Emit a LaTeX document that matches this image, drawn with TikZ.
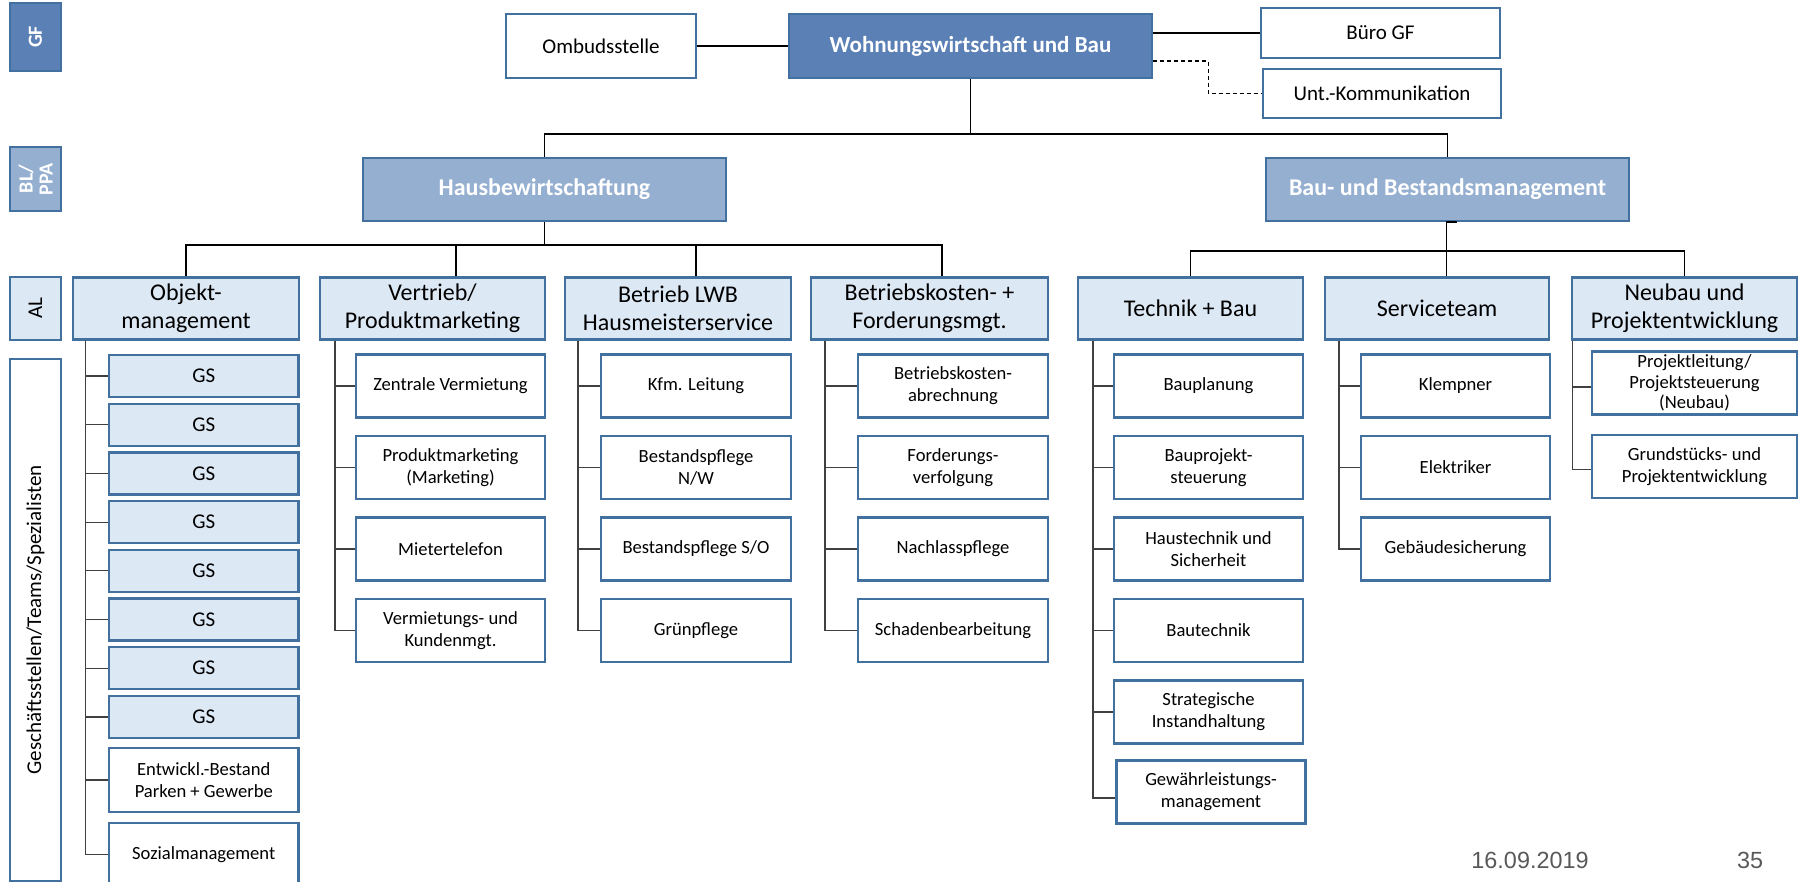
\documentclass[tikz,border=0pt]{standalone}
\usepackage{fontspec}
\setmainfont{Carlito}
\newfontfamily\footfont{Liberation Sans}
\usetikzlibrary{positioning,calc}

\definecolor{gfblue}{RGB}{91,128,181}
\definecolor{blblue}{RGB}{149,175,209}
\definecolor{alblue}{RGB}{221,232,245}
\definecolor{rimblue}{RGB}{66,113,160}
\definecolor{footgray}{RGB}{89,89,89}

\begin{document}
\begin{tikzpicture}[x=0.5pt, y=-0.5pt,
    box/.style={draw=rimblue, line width=1.1pt, align=center, inner sep=1pt, fill=white,
                font=\fontsize{9.3}{11}\selectfont},
    tag/.style={box, rotate=90, minimum height=25.5pt},
    gfbox/.style={box, fill=gfblue, text=white, minimum width=181.5pt, minimum height=32pt,
                  font=\bfseries\fontsize{11.5}{13}\selectfont},
    blbox/.style={box, fill=blblue, text=white, minimum width=181.5pt, minimum height=31.5pt,
                  font=\bfseries\fontsize{12}{14}\selectfont},
    topbox/.style={box, font=\fontsize{10.5}{12.5}\selectfont},
    albox/.style={box, fill=alblue, minimum width=112.5pt, minimum height=31pt,
                  font=\fontsize{12}{14}\selectfont},
    subbox/.style={box, minimum height=31.5pt},
    gsbox/.style={box, fill=alblue, minimum height=21pt, minimum width=94.75pt,
                  font=\fontsize{10.5}{12}\selectfont},
    link/.style={draw=black!75, line width=0.6pt},
    bus/.style={draw=black, line width=0.6pt}]
  \useasboundingbox (0,0) rectangle (1803,882);

  \node[tag, fill=gfblue, text=white, minimum width=34pt, font=\bfseries\fontsize{10}{11}\selectfont] (gf) at (35.5,37) {GF};
  \node[tag, fill=blblue, text=white, minimum width=32pt, font=\bfseries\fontsize{10}{10}\selectfont] (blppa) at (35.5,179) {BL/\\PPA};
  \node[tag, fill=alblue, minimum width=31.5pt, font=\fontsize{10.5}{11}\selectfont] (al) at (35.5,308.5) {AL};
  \node[tag, minimum width=261pt, font=\fontsize{10.5}{12}\selectfont] (gts) at (35.5,620) {Geschäftsstellen/Teams/Spezialisten};

  \node[topbox, minimum width=95pt, minimum height=32pt] (ombud) at (601,46) {Ombudsstelle};
  \node[gfbox] (wub) at (970.5,46) {Wohnungswirtschaft und Bau};
  \node[topbox, minimum width=119.5pt, minimum height=25pt] (buero) at (1380.5,33) {Büro GF};
  \node[topbox, minimum width=119pt, minimum height=24.5pt] (komm) at (1382,93.5) {Unt.-Kommunikation};

  \draw[bus] (ombud) -- (wub);
  \draw[bus] (wub.east |- buero.west) -- (buero.west);
  \draw[bus, dash pattern=on 2pt off 1.5pt] ([yshift=-7.5pt]wub.east) -- ++(55,0) |- (komm.west);

  \node[blbox] (hb) at (544.5,189.5) {Hausbewirtschaftung};
  \node[blbox] (bb) at (1447.5,189.5) {Bau- und Bestandsmanagement};

  \draw[bus] (wub.south) -- ++(0,55) coordinate (wubj);
  \draw[bus] (hb.north) |- (wubj) -| (bb.north);

  \node[albox, minimum width=113pt] (om) at (186,308.5) {Objekt-\\management};
  \node[albox] (vt) at (432.5,308.5) {Vertrieb/\\Produktmarketing};
  \node[albox, minimum width=113pt] (lwb) at (678,308.5) {Betrieb LWB\\Hausmeisterservice};
  \node[albox, minimum width=118.5pt] (bk) at (929.5,308.5) {Betriebskosten- +\\Forderungsmgt.};
  \node[albox] (tb) at (1190.5,308.5) {Technik + Bau};
  \node[albox, minimum width=112pt] (st) at (1437,308.5) {Serviceteam};
  \node[albox] (nb) at (1684.5,308.5) {Neubau und\\Projektentwicklung};

  \draw[bus] (hb.south) -- ++(0,23) coordinate (hbj);
  \draw[bus] (om.north) |- (hbj) -| ([xshift=6.25pt]bk.north);
  \draw[bus] ([xshift=11.75pt]vt.north) -- ([xshift=11.75pt]vt.north |- hbj);
  \draw[bus] ([xshift=9pt]lwb.north) -- ([xshift=9pt]lwb.north |- hbj);
  \draw[bus] ([xshift=4.75pt]st.north) |- ([xshift=4.75pt]bb.south) coordinate (bbj);
  \draw[bus] (tb.north) |- ([yshift=-14.5pt]bbj) -| (nb.north);

  \foreach \i in {1,...,8} {
    \node[gsbox] (gs\i) at (203.75,{376+48.7*(\i-1)}) {GS};
    \draw[link] ([xshift=6.75pt]om.south west) |- (gs\i.west);
  }
  \node[subbox, minimum width=94.75pt, minimum height=32pt] (entw) at (203.75,780) {Entwickl.-Bestand\\Parken + Gewerbe};
  \node[subbox, minimum width=94.75pt] (sozial) at (203.75,854.5) {Sozialmanagement};
  \draw[link] ([xshift=6.75pt]om.south west) |- (entw.west);
  \draw[link] ([xshift=6.75pt]om.south west) |- (sozial.west);

  \foreach \txt [count=\i] in {Zentrale Vermietung, Produktmarketing\\(Marketing), Mietertelefon, Vermietungs- und\\Kundenmgt.} {
    \node[subbox, minimum width=94.5pt] (vt\i) at (450.5,{386+81.5*(\i-1)}) {\txt};
    \draw[link] ([xshift=8pt]vt.south west) |- (vt\i.west);
  }

  \foreach \txt [count=\i] in {Kfm. Leitung, Bestandspflege\\N/W, Bestandspflege S/O, Grünpflege} {
    \node[subbox, minimum width=95pt] (lwb\i) at (696,{386+81.5*(\i-1)}) {\txt};
    \draw[link] ([xshift=7pt]lwb.south west) |- (lwb\i.west);
  }

  \foreach \txt [count=\i] in {Betriebskosten-\\abrechnung, Forderungs-\\verfolgung, Nachlasspflege, Schadenbearbeitung} {
    \node[subbox, minimum width=95pt] (bk\i) at (953,{386+81.5*(\i-1)}) {\txt};
    \draw[link] ([xshift=7.5pt]bk.south west) |- (bk\i.west);
  }

  \foreach \txt [count=\i] in {Bauplanung, Bauprojekt-\\steuerung, Haustechnik und\\Sicherheit, Bautechnik, Strategische\\Instandhaltung} {
    \node[subbox, minimum width=94.5pt] (tb\i) at (1208.5,{386+81.5*(\i-1)}) {\txt};
    \draw[link] ([xshift=8pt]tb.south west) |- (tb\i.west);
  }
  \node[subbox, minimum width=94.5pt] (tb6) at (1211,792) {Gewährleistungs-\\management};
  \draw[link] ([xshift=8pt]tb.south west) |- ([yshift=-3pt]tb6.west);

  \foreach \txt [count=\i] in {Klempner, Elektriker, Gebäudesicherung} {
    \node[subbox, minimum width=94.5pt] (st\i) at (1455.5,{386+81.5*(\i-1)}) {\txt};
    \draw[link] ([xshift=7.5pt]st.south west) |- (st\i.west);
  }

  \node[subbox, minimum width=102.5pt, inner sep=0pt, font=\fontsize{9.3}{10.4}\selectfont] (nb1) at (1694.5,383) {Projektleitung/\\Projektsteuerung\\(Neubau)};
  \node[subbox, minimum width=102.5pt] (nb2) at (1694.5,466.5) {Grundstücks- und\\Projektentwicklung};
  \draw[link] ([xshift=0.75pt]nb.south west) |- ([yshift=-2pt]nb1.west);
  \draw[link] ([xshift=0.75pt]nb.south west) |- ([yshift=-1.5pt]nb2.west);

  \node[anchor=base, text=footgray, font=\footfont\fontsize{11.7}{14}\selectfont] (datum) at (1530,868) {16.09.2019};
  \node[anchor=base, text=footgray, font=\footfont\fontsize{11.7}{14}\selectfont] (seite) at (1750,868) {35};
\end{tikzpicture}
\end{document}
